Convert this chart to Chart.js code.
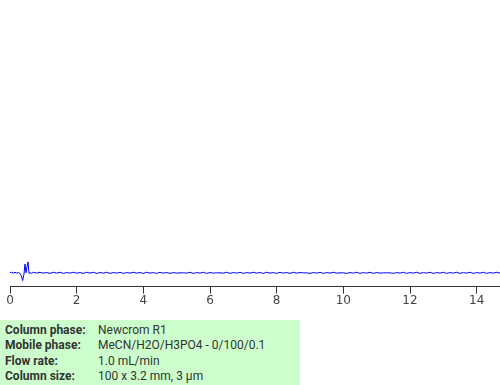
<!DOCTYPE html>
<html>
<head>
<meta charset="utf-8">
<script src="https://cdn.jsdelivr.net/npm/chart.js@4"></script>
<style>
  body { margin: 0; width: 500px; height: 385px; background: #fff; position: relative; overflow: hidden; }
  #wrap { position: absolute; left: 0; top: 0; width: 500px; height: 308px; }
  #info { position: absolute; left: 0; top: 320px; width: 300px; height: 65px; background: #ccffcc;
          font-family: Roboto, "Liberation Sans", sans-serif; font-size: 12px; color: #333; }
  #info table { border-collapse: collapse; margin: 3px 0 0 5px; }
  #info td { padding: 0; height: 15.3px; line-height: 15.3px; }
  #info td.k { font-weight: bold; width: 93px; }
</style>
</head>
<body>
<div id="wrap"><canvas id="chromChart"></canvas></div>
<div id="info"><table id="infoTable"></table></div>
<script>
// retention time, min
const times = [
  0, 0.05, 0.1, 0.15, 0.2, 0.25, 0.3, 0.34, 0.38, 0.42, 0.45, 0.48, 0.51, 0.54, 0.57, 0.6, 0.64, 0.7, 0.8, 0.9,
  1.0, 1.1, 1.2, 1.3, 1.4, 1.5, 1.6, 1.7, 1.8, 1.9, 2.0, 2.1, 2.2, 2.3, 2.4, 2.5, 2.6, 2.7, 2.8, 2.9,
  3.0, 3.1, 3.2, 3.3, 3.4, 3.5, 3.6, 3.7, 3.8, 3.9, 4.0, 4.1, 4.2, 4.3, 4.4, 4.5, 4.6, 4.7, 4.8, 4.9,
  5.0, 5.1, 5.2, 5.3, 5.4, 5.5, 5.6, 5.7, 5.8, 5.9, 6.0, 6.1, 6.2, 6.3, 6.4, 6.5, 6.6, 6.7, 6.8, 6.9,
  7.0, 7.1, 7.2, 7.3, 7.4, 7.5, 7.6, 7.7, 7.8, 7.9, 8.0, 8.1, 8.2, 8.3, 8.4, 8.5, 8.6, 8.7, 8.8, 8.9,
  9.0, 9.1, 9.2, 9.3, 9.4, 9.5, 9.6, 9.7, 9.8, 9.9, 10.0, 10.1, 10.2, 10.3, 10.4, 10.5, 10.6, 10.7, 10.8, 10.9,
  11.0, 11.1, 11.2, 11.3, 11.4, 11.5, 11.6, 11.7, 11.8, 11.9, 12.0, 12.1, 12.2, 12.3, 12.4, 12.5, 12.6, 12.7, 12.8, 12.9,
  13.0, 13.1, 13.2, 13.3, 13.4, 13.5, 13.6, 13.7, 13.8, 13.9, 14.0, 14.1, 14.2, 14.3, 14.4, 14.5, 14.6, 14.7
];
// detector signal, mAU (arbitrary)
const signal = [
  4.8, 5.0, 4.7, 5.0, 4.7, 4.9, 4.6, 3.8, 2.1, 4.4, 7.9, 4.8, 6.9, 8.6, 4.6, 4.9, 4.6, 5.0, 4.7, 5.0,
  4.7, 4.9, 4.6, 5.0, 4.7, 5.0, 4.6, 4.9, 4.7, 5.0, 4.7, 4.9, 4.6, 5.0, 4.7, 5.0, 4.6, 4.9, 4.7, 5.0,
  4.6, 4.9, 4.7, 5.0, 4.6, 4.9, 4.7, 5.0, 4.7, 4.9, 4.6, 5.0, 4.7, 4.9, 4.6, 5.0, 4.7, 4.9, 4.6, 4.9,
  4.7, 4.8, 4.8, 4.7, 5.0, 4.6, 4.9, 4.7, 5.0, 4.6, 4.9, 4.7, 4.8, 4.8, 4.7, 5.0, 4.6, 4.9, 4.7, 5.0,
  4.6, 4.9, 4.7, 5.0, 4.7, 4.9, 4.6, 5.0, 4.7, 4.9, 4.6, 5.0, 4.7, 4.9, 4.6, 5.0, 4.7, 4.9, 4.8, 4.8,
  4.6, 4.9, 4.7, 5.0, 4.6, 4.9, 4.7, 5.0, 4.7, 4.8, 4.8, 4.6, 4.9, 4.7, 5.0, 4.6, 4.9, 4.7, 5.0, 4.6,
  4.9, 4.7, 4.8, 4.8, 4.8, 4.6, 4.9, 4.7, 5.0, 4.6, 4.9, 4.7, 5.0, 4.6, 4.9, 4.7, 5.0, 4.6, 4.9, 4.7,
  5.0, 4.6, 4.9, 4.7, 5.0, 4.6, 4.9, 4.7, 5.0, 4.6, 4.9, 4.7, 5.0, 4.6, 4.9, 4.7, 5.0, 4.7
];
const xTicks = [0, 2, 4, 6, 8, 10, 12, 14];

const infoLabels = ['Column phase:', 'Mobile phase:', 'Flow rate:', 'Column size:'];
const infoValues = ['Newcrom R1', 'MeCN/H2O/H3PO4 - 0/100/0.1', '1.0 mL/min', '100 x 3.2 mm, 3 µm'];

const table = document.getElementById('infoTable');
infoLabels.forEach((lab, i) => {
  const row = table.insertRow();
  const k = row.insertCell();
  k.className = 'k';
  k.textContent = lab;
  row.insertCell().textContent = infoValues[i];
});

const ctx = document.getElementById('chromChart').getContext('2d');
const chart = new Chart(ctx, {
  type: 'line',
  data: {
    datasets: [{
      data: times.map((t, i) => ({ x: t, y: signal[i] })),
      borderColor: '#0000ff',
      borderWidth: 1,
      pointRadius: 0,
      tension: 0,
      fill: false
    }]
  },
  options: {
    responsive: true,
    maintainAspectRatio: false,
    animation: false,
    layout: { padding: { left: 10, right: 0, top: 0, bottom: 0 } },
    plugins: { legend: { display: false }, tooltip: { enabled: false } },
    scales: {
      x: {
        type: 'linear',
        min: 0,
        max: 14.7,
        afterBuildTicks: axis => { axis.ticks = xTicks.map(v => ({ value: v })); },
        grid: { drawOnChartArea: false, drawTicks: true, tickLength: 7, color: '#333' },
        border: { color: '#333', width: 1 },
        ticks: { color: '#444', font: { family: 'DejaVu Sans', size: 12 }, padding: 0, maxRotation: 0 }
      },
      y: { display: false, min: 0, max: 100 }
    }
  }
});
</script>
</body>
</html>
